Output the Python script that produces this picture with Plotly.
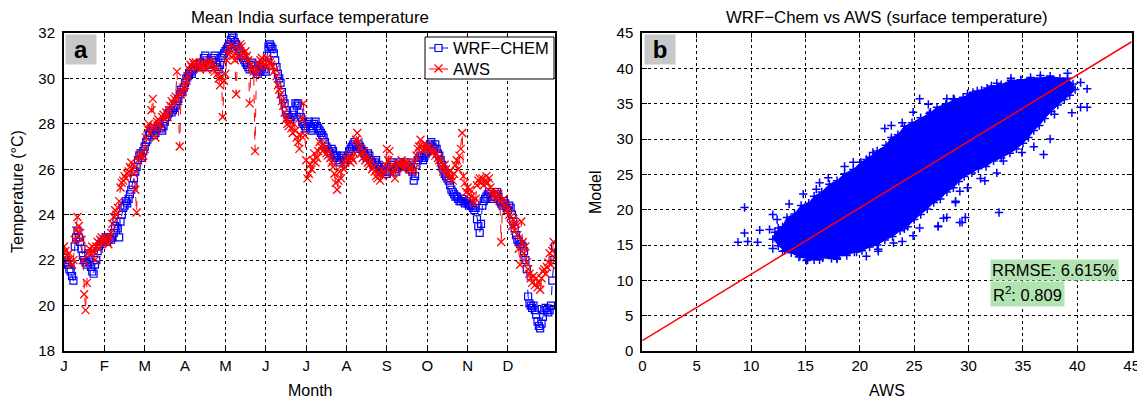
import plotly.graph_objects as go

# ---------------- Panel a data (day index 0..365) ----------------
month_ticks = [0, 30, 60, 90, 120, 150, 180, 210, 240, 270, 300, 330]
month_labels = ["J", "F", "M", "A", "M", "J", "J", "A", "S", "O", "N", "D"]
series_names = ["WRF\u2212CHEM", "AWS"]

wrf_chem = [
    22.1, 22.0, 21.9, 21.8, 21.6, 21.5, 21.3, 21.1, 22.6, 23.0,
    23.3, 23.0, 22.8, 22.5, 22.2, 22.0, 21.9, 21.8, 22.3, 21.9,
    21.7, 21.5, 21.4, 21.8, 22.0, 22.4, 22.6, 22.7, 22.8, 22.8,
    22.9, 23.0, 22.8, 22.9, 23.0, 22.9, 23.0, 23.2, 23.5, 23.7,
    23.4, 23.0, 23.7, 24.0, 24.3, 24.4, 24.6, 24.5, 24.7, 24.9,
    25.1, 25.3, 25.6, 25.9, 26.1, 26.4, 26.6, 26.7, 26.5, 26.8,
    27.0, 27.2, 27.3, 27.5, 27.6, 27.8, 27.7, 27.5, 27.6, 27.8,
    27.9, 28.0, 27.8, 27.7, 27.9, 28.1, 28.3, 28.4, 28.5, 28.6,
    28.5, 28.6, 28.7, 28.8, 29.0, 29.1, 29.3, 29.5, 29.4, 29.6,
    29.8, 30.0, 30.1, 30.2, 30.3, 30.2, 30.4, 30.5, 30.6, 30.6,
    30.5, 30.7, 30.6, 30.5, 30.9, 31.0, 30.8, 30.6, 30.5, 30.6,
    30.8, 30.9, 31.0, 30.7, 30.5, 30.4, 30.6, 30.9, 31.0, 31.1,
    31.2, 31.3, 31.4, 31.5, 31.7, 31.9, 31.8, 31.6, 31.5, 31.4,
    31.3, 31.2, 31.0, 30.9, 30.8, 30.7, 30.6, 30.5, 30.4, 30.6,
    30.7, 30.6, 30.4, 30.3, 30.2, 30.4, 30.3, 30.5, 30.6, 30.4,
    30.3, 31.0, 31.4, 31.5, 31.4, 31.3, 31.1, 30.8, 30.5, 30.2,
    30.0, 29.8, 29.4, 29.1, 28.9, 28.6, 28.4, 28.3, 28.2, 28.3,
    28.4, 28.6, 28.9, 28.8, 28.9, 28.5, 28.3, 28.1, 28.0, 27.9,
    27.8, 28.0, 28.1, 27.9, 27.7, 27.8, 28.0, 28.1, 27.9, 27.8,
    27.7, 27.6, 27.5, 27.4, 27.2, 27.0, 26.9, 26.8, 26.7, 26.9,
    26.8, 26.6, 26.5, 26.6, 26.4, 26.3, 26.5, 26.6, 26.4, 26.3,
    26.5, 26.6, 26.8, 26.9, 27.0, 27.1, 27.2, 27.0, 26.9, 27.1,
    27.0, 26.9, 26.8, 26.7, 26.6, 26.5, 26.7, 26.6, 26.4, 26.3,
    26.2, 26.3, 26.4, 26.2, 26.1, 26.0, 25.9, 26.0, 26.1, 25.9,
    25.8, 25.9, 26.1, 26.2, 26.3, 26.2, 26.0, 25.9, 26.1, 26.2,
    26.3, 26.2, 26.1, 26.2, 26.3, 26.2, 26.1, 26.0, 26.1, 25.9,
    25.5, 25.7, 26.2, 26.4, 26.5, 26.6, 26.5, 26.4, 26.6, 26.7,
    26.8, 27.0, 27.1, 27.2, 27.0, 26.9, 27.1, 26.9, 26.7, 26.6,
    26.4, 26.2, 26.0, 25.8, 25.7, 25.6, 25.5, 25.3, 25.1, 25.0,
    24.9, 24.8, 24.8, 24.7, 24.6, 24.6, 24.7, 24.6, 24.5, 24.6,
    24.5, 24.4, 24.5, 24.4, 24.3, 24.2, 24.3, 23.8, 23.5, 23.2,
    23.6, 24.4, 24.6, 24.7, 24.8, 24.9, 25.0, 24.9, 24.8, 24.7,
    24.8, 24.9, 25.0, 24.8, 24.6, 24.5, 24.4, 24.6, 24.5, 24.3,
    24.2, 24.4, 24.3, 24.0, 23.7, 23.4, 23.1, 22.9, 22.8, 22.7,
    22.7, 22.6, 22.4, 22.0, 21.6, 20.4, 20.1, 20.0, 19.9, 20.0,
    19.8, 19.6, 19.3, 19.1, 19.0, 19.2, 19.5, 19.8, 19.9, 19.8,
    19.7, 19.8, 20.0, 21.1, 22.0, 22.6,
]

aws = [
    22.6, 22.4, 22.2, 22.0, 22.3, 21.9, 21.8, 22.0, 22.9, 23.3,
    23.9, 23.5, 23.2, 22.9, 22.0, 20.5, 19.8, 21.0, 22.3, 22.5,
    22.3, 22.6, 22.4, 22.0, 22.6, 22.8, 22.5, 22.9, 23.0, 22.8,
    22.9, 23.0, 22.8, 22.7, 23.0, 23.2, 23.6, 23.9, 24.2, 24.0,
    24.3, 24.6, 25.2, 25.4, 25.5, 25.7, 25.6, 25.8, 25.9, 26.1,
    26.3, 26.0, 25.8, 25.1, 24.1, 26.4, 26.6, 26.7, 26.5, 26.6,
    26.9, 27.4, 27.8, 28.0, 27.6, 28.6, 29.1, 27.9, 27.4, 28.1,
    28.2, 28.0, 27.8, 28.3, 28.4, 28.2, 28.5, 28.3, 28.6, 28.8,
    29.0, 28.9, 29.1, 29.2, 30.3, 29.0, 27.0, 29.3, 29.4, 29.6,
    29.7, 29.9, 30.1, 30.4, 30.6, 30.5, 30.7, 30.6, 30.7, 30.5,
    30.6, 30.4, 30.5, 30.6, 30.7, 30.5, 30.4, 30.6, 30.8, 30.7,
    30.6, 30.4, 30.3, 30.5, 30.2, 30.0, 29.7, 30.1, 28.3, 29.9,
    30.2, 30.8, 31.1, 31.3, 31.5, 31.2, 31.0, 30.8, 29.3, 31.0,
    31.3, 31.5, 31.4, 31.1, 30.9, 31.2, 31.0, 30.8, 28.9, 30.6,
    30.4, 30.3, 26.8, 30.2, 30.4, 30.6, 30.8, 30.9, 30.7, 30.6,
    30.5, 30.9, 30.8, 30.7, 30.6, 30.5, 30.3, 30.4, 30.1, 29.7,
    29.5, 29.3, 29.0, 28.8, 28.5, 28.2, 28.0, 27.9, 28.1, 27.8,
    27.6, 28.0, 27.7, 27.4, 27.2, 26.9, 27.5, 28.2, 28.9, 27.5,
    26.4, 25.6, 25.8, 26.2, 26.0, 26.4, 26.7, 26.3, 26.5, 26.8,
    27.2, 27.0, 26.8, 27.1, 26.9, 26.7, 26.6, 26.8, 26.5, 26.3,
    26.1, 25.8, 25.4, 25.1, 25.5, 25.9, 25.6, 26.2, 26.0, 26.3,
    26.5, 26.4, 26.6, 26.3, 26.5, 26.4, 26.7, 27.3, 27.6, 27.2,
    26.9, 26.7, 26.5, 26.8, 26.4, 26.6, 26.3, 26.2, 26.4, 26.0,
    26.1, 25.9, 25.7, 25.6, 25.8, 25.5, 26.0, 25.7, 25.9, 26.2,
    26.9, 26.4, 26.8, 26.1, 25.8, 26.0, 25.6, 26.1, 26.3, 26.2,
    26.2, 26.4, 26.0, 26.3, 26.1, 26.3, 26.2, 26.0, 26.1, 25.9,
    26.0, 26.3, 26.6, 26.9, 27.0, 27.3, 27.0, 26.8, 26.9, 27.1,
    26.9, 27.0, 26.8, 26.9, 26.7, 26.8, 26.6, 26.7, 26.5, 26.4,
    26.3, 26.1, 25.9, 26.2, 26.0, 25.8, 25.6, 25.9, 25.7, 25.5,
    25.8, 26.2, 26.4, 26.0, 26.6, 26.9, 27.6, 25.7, 25.4, 25.0,
    25.2, 24.9, 25.1, 24.8, 24.6, 24.5, 24.7, 25.3, 25.5, 25.6,
    25.4, 25.6, 25.3, 25.5, 25.7, 25.4, 25.6, 25.2, 25.0, 24.8,
    24.9, 25.0, 24.7, 24.9, 24.6, 22.8, 24.5, 24.7, 24.4, 24.2,
    24.3, 24.0, 23.9, 23.5, 23.8, 23.3, 23.6, 23.1, 22.5, 21.8,
    23.7, 22.8, 22.3, 22.6, 21.9, 21.6, 21.4, 21.2, 21.0, 21.3,
    20.9, 21.2, 20.8, 21.0, 20.7, 21.2, 21.5, 21.6, 21.4, 21.7,
    21.9, 22.3, 21.8, 22.4, 22.8, 22.1,
]
days = list(range(len(wrf_chem)))

# ---------------- Panel b data ----------------
# dense core of the AWS-vs-model cloud (outline of the solid blue region)
cloud_aws = [12.0, 12.2, 12.9, 13.3, 14.0, 14.6, 15.3, 15.8, 16.5, 17.2, 17.9, 18.6,
             19.4, 20.1, 20.9, 21.6, 22.4, 22.9, 23.5, 24.1, 24.8, 25.6, 26.4, 27.1,
             27.9, 28.7, 29.5, 30.4, 31.2, 32.1, 33.0, 33.9, 34.8, 35.7, 36.6, 37.5,
             38.4, 39.1, 39.6, 39.8, 39.3,
             38.8, 38.2, 37.6, 37.0, 36.5, 36.0, 35.5, 35.0, 34.4, 33.8, 33.0, 32.3,
             31.6, 30.9, 30.3, 29.6, 29.1, 28.6, 28.0, 27.4, 26.8, 26.2, 25.6, 25.0,
             24.4, 23.7, 23.0, 22.3, 21.6, 20.9, 20.2, 19.5, 18.8, 18.1, 17.4, 16.6,
             15.8, 15.1, 14.4, 13.7, 13.1, 12.5]
cloud_model = [15.8, 16.8, 17.6, 18.9, 19.4, 20.6, 20.9, 21.9, 22.5, 23.6, 24.1, 25.1,
               25.7, 26.7, 27.4, 28.3, 29.1, 30.2, 30.6, 31.8, 32.3, 33.0, 33.6, 34.5,
               34.9, 35.6, 35.9, 36.6, 36.9, 37.5, 37.7, 38.3, 38.3, 38.7, 38.6, 38.9,
               38.6, 38.6, 37.8, 37.0, 36.2,
               35.6, 34.8, 33.9, 32.9, 31.9, 31.2, 30.2, 29.4, 28.6, 28.0, 27.3, 26.9,
               26.1, 25.8, 25.2, 24.7, 24.0, 23.1, 22.5, 21.5, 21.0, 20.1, 19.3, 18.6,
               17.6, 17.0, 16.2, 15.7, 15.0, 14.7, 14.2, 14.0, 13.5, 13.5, 13.1, 13.2,
               12.9, 13.2, 13.3, 13.9, 14.2, 14.9]
# scattered individual points around the core
pts_aws = [9.4, 9.4, 8.8, 9.7, 10.6, 10.8, 11.7, 12.5, 13.5, 14.8, 16.0, 16.3, 17.1,
           18.6, 19.4, 20.6, 21.2, 21.9, 22.3, 22.9, 23.9, 24.9, 25.5, 26.3, 26.5,
           28.0, 28.6, 29.9, 30.8, 31.7, 32.6, 33.9, 34.8, 36.6, 39.1, 40.3, 40.9,
           40.3, 40.9, 39.5, 37.9, 37.5, 36.9, 36.0, 34.9, 33.2, 32.6, 31.5, 31.1,
           29.9, 29.2, 28.8, 28.0, 27.2, 25.5, 24.9, 23.9, 23.1, 21.7, 20.6, 19.7,
           17.9, 16.3, 15.2, 14.5, 12.9, 12.0, 32.8, 29.4, 27.7, 27.2, 29.2, 29.7,
           28.8, 24.9, 24.1, 23.1, 21.7, 12.4, 12.0, 15.1, 17.9]
pts_model = [20.3, 16.7, 15.4, 15.5, 15.4, 17.1, 17.2, 17.4, 20.8, 22.2, 22.9, 23.8,
             24.5, 26.1, 26.7, 27.1, 28.1, 28.1, 31.5, 31.9, 32.3, 33.8, 35.7, 34.9,
             33.8, 35.7, 35.7, 36.4, 36.8, 37.2, 37.9, 38.6, 38.4, 39.0, 39.3, 38.0,
             37.1, 34.5, 34.5, 33.7, 33.5, 30.0, 27.8, 28.9, 28.1, 26.9, 25.2, 24.1,
             24.4, 23.1, 22.6, 21.2, 18.9, 17.7, 17.4, 16.3, 15.5, 15.3, 14.4, 13.4,
             14.0, 13.2, 12.9, 12.9, 13.4, 14.1, 14.5, 19.6, 18.2, 18.8, 17.6, 18.2,
             18.9, 21.0, 18.9, 17.3, 16.9, 14.1, 18.6, 19.3, 12.8, 13.0]
fit_intercept = 1.46
fit_slope = 0.94
fit_x = [0, 45]
fit_y = [fit_intercept + fit_slope * v for v in fit_x]
rrmse_text = "RRMSE: 6.615%"
r2_text = "R<sup>2</sup>: 0.809"

FONT = "Liberation Sans, Arial, Helvetica, sans-serif"
BLUE = "#0000ff"
RED = "#ff0000"

fig = go.Figure()

fig.add_trace(go.Scatter(
    x=days, y=wrf_chem, name=series_names[0], mode="lines+markers",
    line=dict(color=BLUE, width=1, dash="dash"),
    marker=dict(symbol="square-open", size=7, color=BLUE, line=dict(width=1.2, color=BLUE)),
    showlegend=False, xaxis="x", yaxis="y"))
fig.add_trace(go.Scatter(
    x=days, y=aws, name=series_names[1], mode="lines+markers",
    line=dict(color=RED, width=1, dash="dash"),
    marker=dict(symbol="x-thin-open", size=8, color=RED, line=dict(width=1.3, color=RED)),
    showlegend=False, xaxis="x", yaxis="y"))

fig.add_trace(go.Scatter(
    x=cloud_aws, y=cloud_model, fill="toself", fillcolor=BLUE, mode="lines+markers",
    line=dict(color=BLUE, width=1),
    marker=dict(symbol="cross-thin-open", size=6, color=BLUE, line=dict(width=1.5, color=BLUE)),
    showlegend=False, xaxis="x2", yaxis="y2", hoverinfo="skip"))
fig.add_trace(go.Scatter(
    x=pts_aws, y=pts_model, mode="markers",
    marker=dict(symbol="cross-thin-open", size=6, color=BLUE, line=dict(width=1.5, color=BLUE)),
    showlegend=False, xaxis="x2", yaxis="y2"))
fig.add_trace(go.Scatter(
    x=fit_x, y=fit_y, mode="lines", line=dict(color=RED, width=1.5),
    showlegend=False, xaxis="x2", yaxis="y2"))

# The page body adds an 8px margin, so the figure is shifted back by that amount.
W, H = 1145, 404
OFF = 8
def px_x(p):
    return (p - OFF) / W
def px_y(p):
    return 1 - (p - OFF) / H

axis_common = dict(
    showline=True, linewidth=2, linecolor="black", mirror="allticks",
    ticks="inside", ticklen=5, tickwidth=1, tickcolor="black",
    showgrid=True, gridcolor="black", gridwidth=1, griddash="dot",
    zeroline=False, automargin=False,
    tickfont=dict(size=15, color="black", family=FONT),
)

ydom = [px_y(351), px_y(33)]
fig.update_layout(
    template="none",
    width=W, height=H, margin=dict(l=0, r=0, t=0, b=0, pad=0, autoexpand=False),
    paper_bgcolor="white", plot_bgcolor="white",
    font=dict(family=FONT, color="black", size=15),
    xaxis=dict(domain=[px_x(64), px_x(555)], range=[0, 365],
               tickvals=month_ticks, ticktext=month_labels, anchor="y", **axis_common),
    yaxis=dict(domain=ydom, range=[18, 32], dtick=2, anchor="x",
               ticklabelstandoff=4, **axis_common),
    xaxis2=dict(domain=[px_x(642.3), px_x(1131.7)], range=[0, 45], dtick=5,
                anchor="y2", **axis_common),
    yaxis2=dict(domain=ydom, range=[0, 45], dtick=5, anchor="x2",
                ticklabelstandoff=4, **axis_common),
    showlegend=False,
)

# ---- legend box for panel a (drawn as paper-space decoration) ----
def pline(x0, y0, x1, y1, color, width=1.0):
    return dict(type="line", xref="paper", yref="paper", x0=px_x(x0), y0=px_y(y0),
                x1=px_x(x1), y1=px_y(y1), line=dict(color=color, width=width), layer="above")

shapes = [
    dict(type="rect", xref="paper", yref="paper", x0=px_x(425), x1=px_x(554),
         y0=px_y(79), y1=px_y(37), fillcolor="white", line=dict(color="black", width=1),
         layer="above"),
    # WRF-CHEM icon: line + open square
    pline(429, 48, 448, 48, BLUE),
    dict(type="rect", xref="paper", yref="paper", x0=px_x(435), x1=px_x(442),
         y0=px_y(51.5), y1=px_y(44.5), fillcolor="white", line=dict(color=BLUE, width=1.2),
         layer="above"),
    # AWS icon: line + x
    pline(429, 69, 448, 69, RED),
    pline(434.5, 64.5, 442.5, 72.5, RED, 1.3),
    pline(434.5, 72.5, 442.5, 64.5, RED, 1.3),
]
fig.update_layout(shapes=shapes)

def text_ann(text, xp, yp, angle=0, size=16.8, xanchor="center"):
    return dict(text=text, x=px_x(xp), y=px_y(yp), xref="paper", yref="paper",
                xanchor=xanchor, yanchor="middle", showarrow=False, textangle=angle,
                font=dict(size=size))

ann = [
    text_ann("Mean India surface temperature", 309.5, 17),
    text_ann("WRF\u2212Chem vs AWS (surface temperature)", 887, 17),
    text_ann("Month", 309.5, 390, size=16),
    text_ann("AWS", 887, 390, size=16),
    text_ann("Temperature (\u00b0C)", 18, 192, angle=-90, size=16),
    text_ann("Model", 596, 192, angle=-90, size=16),
    text_ann(series_names[0], 451, 48, size=16.5, xanchor="left"),
    text_ann(series_names[1], 451, 69, size=16.5, xanchor="left"),
]
# panel labels
for lab, xr, yr in [("a", "x domain", "y domain"), ("b", "x2 domain", "y2 domain")]:
    ann.append(dict(text="<b>" + lab + "</b>", x=0.003, y=0.997, xref=xr, yref=yr,
                    xanchor="left", yanchor="top", showarrow=False, bgcolor="#c8c8c8",
                    width=28, height=27, font=dict(size=24, color="black")))
# stats boxes
ann.append(dict(text=rrmse_text, x=31.97, y=13.06, xref="x2", yref="y2", xanchor="left",
                yanchor="top", showarrow=False, bgcolor="#b2e4b2", borderpad=1,
                font=dict(size=16.5)))
ann.append(dict(text=r2_text, x=31.97, y=9.94, xref="x2", yref="y2", xanchor="left",
                yanchor="top", showarrow=False, bgcolor="#b2e4b2", borderpad=2,
                font=dict(size=16.5)))
fig.update_layout(annotations=ann)

fig.write_html("out.html")
